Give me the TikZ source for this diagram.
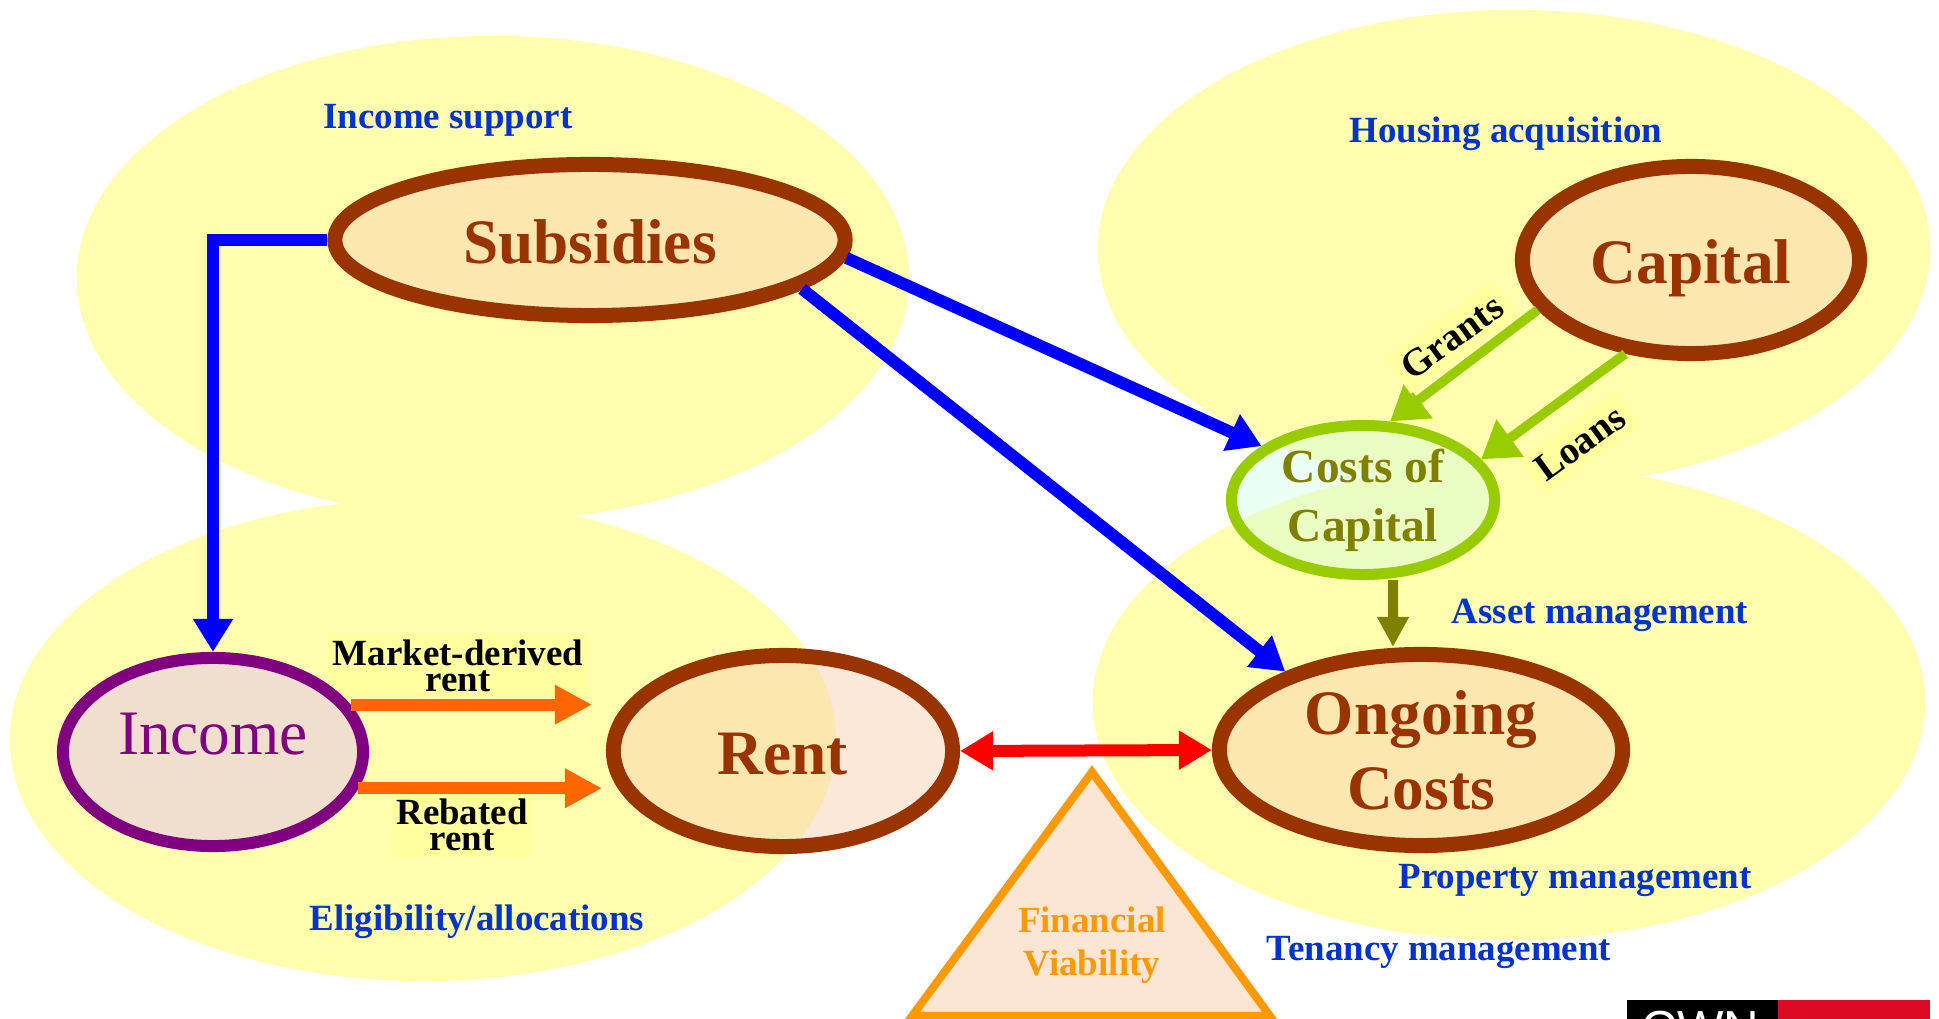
\documentclass[tikz,border=0pt]{standalone}
\usepackage{fontspec}
\setmainfont{Liberation Serif}
\newfontfamily\logofont{Liberation Sans}
\usetikzlibrary{arrows.meta,shapes.geometric}
\definecolor{blobY}{HTML}{FFFDAE}
\definecolor{brownC}{HTML}{993300}
\definecolor{peach}{HTML}{FAD2B4}
\definecolor{lavender}{HTML}{E6CCE6}
\definecolor{mint}{HTML}{CCFFE0}
\definecolor{blueL}{HTML}{0033CC}
\definecolor{blueA}{HTML}{0000FF}
\definecolor{greenA}{HTML}{99CC00}
\definecolor{oliveT}{HTML}{808000}
\definecolor{purpleC}{HTML}{800080}
\definecolor{orangeA}{HTML}{FF6600}
\definecolor{orangeF}{HTML}{FF9900}
\definecolor{triFill}{HTML}{FCE5D2}
\definecolor{redA}{HTML}{FF0000}
\definecolor{logoRed}{HTML}{DC0A23}
\definecolor{lblBg}{HTML}{FFFFA0}
\begin{document}
\begin{tikzpicture}[x=0.01cm,y=-0.01cm,
  blob/.style={fill=blobY,draw=none},
  bignode/.style={ellipse,draw=brownC,line width=0.15cm,fill=peach,fill opacity=0.5,text opacity=1,
    text=brownC,font=\bfseries\fontsize{18}{21.4}\selectfont,inner sep=0pt,align=center},
  incnode/.style={ellipse,draw=purpleC,line width=0.12cm,fill=lavender,fill opacity=0.6,text opacity=1,
    text=purpleC,font=\fontsize{18}{21.4}\selectfont,inner sep=0pt},
  cocnode/.style={ellipse,draw=greenA,line width=0.11cm,fill=mint,fill opacity=0.4,text opacity=1,
    text=oliveT,font=\bfseries\fontsize{13.5}{16.8}\selectfont,inner sep=0pt,align=center},
  bluelbl/.style={text=blueL,font=\bfseries\fontsize{10.5}{12}\selectfont,inner sep=0pt},
  flowlbl/.style={text=black,fill=lblBg,font=\bfseries\fontsize{10.5}{7.6}\selectfont,inner sep=1.5pt,align=center},
  rotlbl/.style={text=black,fill=lblBg,font=\bfseries\fontsize{11}{13}\selectfont,inner sep=2.5pt,rotate=36},
  bluearr/.style={draw=blueA,line width=0.12cm,-{Triangle[length=0.33cm,width=0.38cm]}},
  greenarr/.style={draw=greenA,line width=0.095cm,-{Triangle[length=0.36cm,width=0.44cm]}},
  olivearr/.style={draw=oliveT,line width=0.1cm,-{Triangle[length=0.3cm,width=0.3cm]}},
  orangearr/.style={draw=orangeA,line width=0.12cm,-{Triangle[length=0.37cm,width=0.37cm]}},
  redarr/.style={draw=redA,line width=0.12cm,{Triangle[length=0.33cm,width=0.37cm]}-{Triangle[length=0.33cm,width=0.37cm]}},
  fvtri/.style={draw=orangeF,line width=0.08cm,fill=triFill,line join=miter}
]
\useasboundingbox (0,0) rectangle (1939,1019);
% background regions
\fill[blob] (493,278) ellipse [x radius=4.16cm,y radius=2.42cm];
\fill[blob] (1514,249) ellipse [x radius=4.16cm,y radius=2.39cm];
\fill[blob] (423,740) ellipse [x radius=4.13cm,y radius=2.41cm];
\fill[blob] (1509,702) ellipse [x radius=4.16cm,y radius=2.38cm];
% financial viability triangle
\draw[fvtri] (1092,772) -- (1270,1016) -- (912,1016) -- cycle;
\node[text=orangeF,font=\bfseries\fontsize{10.5}{12.2}\selectfont,align=center,inner sep=0pt] (fv) at (1092,945) {Financial\\Viability};
% connector labels (backgrounds under the shapes)
\node[flowlbl] (mdr) at (458,666) {Market-derived\\rent};
\node[flowlbl] (reb) at (462,825) {Rebated\\rent};
% main nodes
\node[bignode,minimum width=5.1cm,minimum height=1.51cm,text height=13.5pt,text depth=0pt] (subs) at (590,240) {Subsidies};
\node[bignode,minimum width=3.37cm,minimum height=1.87cm,text height=13.5pt,text depth=0pt] (cap) at (1691,260) {Capital};
\node[cocnode,minimum width=2.63cm,minimum height=1.49cm] (coc) at (1363,500) {Costs of\\Capital};
\node[incnode,minimum width=3.0cm,minimum height=1.88cm,text height=11pt,text depth=9.3pt] (inc) at (213,752) {Income};
\node[bignode,minimum width=3.39cm,minimum height=1.91cm,text height=13.5pt,text depth=0pt] (rent) at (783,751) {Rent};
\node[bignode,minimum width=4.03cm,minimum height=1.91cm] (ong) at (1421,750) {Ongoing\\Costs};
% connectors
\draw[bluearr] (subs.west) -| (inc.north);
\draw[bluearr] (subs.-4.6) -- (coc.152.6);
\draw[bluearr] (subs.-13.8) -- (ong.150.1);
\draw[greenarr] (cap.198.8) -- (coc.71.4);
\draw[greenarr] (cap.235.5) -- (coc.19.7);
\draw[olivearr] ([xshift=0.3cm]coc.south) -- ([xshift=-0.28cm]ong.north);
\coordinate (mdrend) at (592,704);
\coordinate (rbend) at (602,789);
\draw[orangearr] (inc.19.4) -- (inc.19.4 -| mdrend);
\draw[orangearr] (inc.-14.3) -- (inc.-14.3 -| rbend);
\draw[redarr] (rent.east) -- (ong.west);
% rotated connector labels
\node[rotlbl] (grants) at (1452,337) {Grants};
\node[rotlbl] (loans) at (1580,443) {Loans};
% area labels
\node[bluelbl,anchor=base] (incsup) at (448,129) {Income support};
\node[bluelbl,anchor=base] (housacq) at (1506,143) {Housing acquisition};
\node[bluelbl,anchor=base] (assetm) at (1600,624) {Asset management};
\node[bluelbl,anchor=base] (propm) at (1575,888) {Property management};
\node[bluelbl,anchor=base] (tenm) at (1439,960) {Tenancy management};
\node[bluelbl,anchor=base] (elig) at (477,930) {Eligibility/allocations};
% logo strip (cut by the page edge)
\fill[black] (1627,1000) rectangle (1778,1030);
\fill[logoRed] (1778,1000) rectangle (1930,1030);
\node[text=white,font=\logofont\fontsize{14}{14}\selectfont,anchor=base west,inner sep=0pt] (logo) at (1641,1045) {CWN};
\end{tikzpicture}
\end{document}
